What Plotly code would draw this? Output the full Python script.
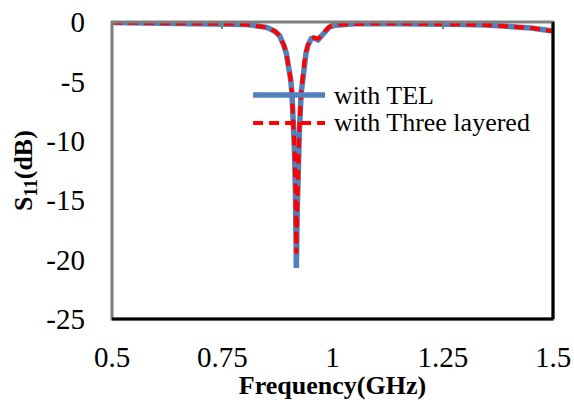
import plotly.graph_objects as go

# Frequency (GHz) and S11 (dB)
freq_tel = [0.50, 0.55, 0.60, 0.65, 0.70, 0.75, 0.78, 0.80, 0.82, 0.84, 0.85, 0.86,
            0.87, 0.88, 0.885, 0.89, 0.895, 0.90, 0.905, 0.908, 0.911, 0.914, 0.916,
            0.918, 0.920, 0.922, 0.925, 0.929, 0.932, 0.936, 0.94, 0.944, 0.948,
            0.952, 0.958, 0.963, 0.967, 0.972, 0.978, 0.985, 0.992, 1.00, 1.02,
            1.05, 1.10, 1.15, 1.20, 1.25, 1.30, 1.35, 1.40, 1.45, 1.50]
s11_tel = [-0.05, -0.06, -0.07, -0.08, -0.10, -0.12, -0.15, -0.20, -0.28, -0.38, -0.45, -0.6,
           -0.8, -1.15, -1.5, -2.0, -2.6, -3.5, -4.8, -6.0, -8.0, -11.0, -14.5,
           -20.7, -16.0, -12.5, -9.0, -6.0, -4.8, -3.5, -2.6, -2.0, -1.6,
           -1.4, -1.35, -1.45, -1.5, -1.3, -1.0, -0.7, -0.45, -0.3, -0.2,
           -0.15, -0.12, -0.12, -0.13, -0.17, -0.2, -0.25, -0.35, -0.5, -0.75]

freq_three = [0.50, 0.55, 0.60, 0.65, 0.70, 0.75, 0.78, 0.80, 0.82, 0.84, 0.85, 0.86,
              0.87, 0.88, 0.885, 0.89, 0.895, 0.90, 0.905, 0.908, 0.911, 0.914, 0.916,
              0.918, 0.920, 0.922, 0.925, 0.929, 0.932, 0.936, 0.94, 0.944, 0.948,
              0.952, 0.958, 0.963, 0.967, 0.972, 0.978, 0.985, 0.992, 1.00, 1.02,
              1.05, 1.10, 1.15, 1.20, 1.25, 1.30, 1.35, 1.40, 1.45, 1.50]
s11_three = [-0.05, -0.06, -0.07, -0.08, -0.10, -0.12, -0.15, -0.20, -0.28, -0.38, -0.45, -0.6,
             -0.8, -1.15, -1.5, -2.0, -2.6, -3.5, -4.8, -6.0, -8.0, -10.8, -14.0,
             -19.5, -15.5, -12.2, -8.8, -5.9, -4.7, -3.4, -2.5, -1.95, -1.55,
             -1.35, -1.3, -1.38, -1.42, -1.25, -0.95, -0.68, -0.44, -0.3, -0.2,
             -0.15, -0.12, -0.12, -0.13, -0.17, -0.2, -0.25, -0.35, -0.5, -0.78]

x_ticks = [0.5, 0.75, 1.0, 1.25, 1.5]
x_tick_labels = ["0.5", "0.75", "1", "1.25", "1.5"]
y_ticks = [0, -5, -10, -15, -20, -25]
y_tick_labels = ["0", "-5", "-10", "-15", "-20", "-25"]
series_names = ["with TEL", "with Three layered"]

BLUE = "#4F81BD"
RED = "#FF0000"
FONT = "Liberation Serif, Times New Roman, serif"

fig = go.Figure()
fig.add_trace(go.Scatter(x=freq_tel, y=s11_tel, mode="lines", name=series_names[0],
                         line=dict(color=BLUE, width=5.5), showlegend=False))
fig.add_trace(go.Scatter(x=freq_three, y=s11_three, mode="lines", name=series_names[1],
                         line=dict(color=RED, width=4, dash="10px,6px"), showlegend=False))
# invisible helper trace so the top tick axis is drawn
fig.add_trace(go.Scatter(x=[x_ticks[0]], y=[y_ticks[0]], xaxis="x2", mode="markers",
                         marker=dict(opacity=0), showlegend=False, hoverinfo="skip"))

# Custom legend (long line samples like the reference)
fig.add_shape(type="line", xref="paper", yref="paper", x0=0.320, x1=0.483, y0=0.754, y1=0.754,
              line=dict(color=BLUE, width=5.5))
fig.add_shape(type="line", xref="paper", yref="paper", x0=0.320, x1=0.483, y0=0.660, y1=0.660,
              line=dict(color=RED, width=4, dash="10px,6px"))
fig.add_annotation(xref="paper", yref="paper", x=0.499, y=0.754, text=series_names[0],
                   showarrow=False, xanchor="left", yanchor="middle",
                   font=dict(family=FONT, size=26, color="black"))
fig.add_annotation(xref="paper", yref="paper", x=0.499, y=0.660, text=series_names[1],
                   showarrow=False, xanchor="left", yanchor="middle",
                   font=dict(family=FONT, size=26, color="black"))

# Frame: gray outline with darker bottom/right edges
fig.add_shape(type="rect", xref="paper", yref="paper", x0=0, x1=1, y0=0, y1=1,
              line=dict(color="#7F7F7F", width=3), layer="above")
fig.add_shape(type="line", xref="paper", yref="paper", x0=0, x1=1, y0=0, y1=0,
              line=dict(color="black", width=3), layer="above")
fig.add_shape(type="line", xref="paper", yref="paper", x0=1, x1=1, y0=0, y1=1,
              line=dict(color="black", width=3), layer="above")

fig.update_layout(
    width=574, height=400,
    margin=dict(l=112, r=21, t=22, b=81, autoexpand=False),
    paper_bgcolor="white", plot_bgcolor="white",
    font=dict(family=FONT, color="black"),
    xaxis=dict(range=[0.5, 1.5], tickvals=x_ticks, ticktext=x_tick_labels,
               showgrid=False, zeroline=False, showline=False, ticks="", automargin=False,
               tickfont=dict(family=FONT, size=29, color="black"), ticklabelstandoff=18,
               title=dict(text="<b>Frequency(GHz)</b>",
                          font=dict(family=FONT, size=26, color="black"), standoff=2)),
    xaxis2=dict(range=[0.5, 1.5], overlaying="x", side="top", tickvals=x_ticks,
                showticklabels=False, ticks="inside", ticklen=7, tickcolor="#7F7F7F",
                tickwidth=1.5, showgrid=False, zeroline=False, showline=False,
                automargin=False),
    yaxis=dict(range=[-25, 0], tickvals=y_ticks, ticktext=y_tick_labels,
               showgrid=False, zeroline=False, showline=False, ticks="", automargin=False,
               tickfont=dict(family=FONT, size=29, color="black"), ticklabelstandoff=26,
               title=dict(text="<b>S<sub>11</sub>(dB)</b>",
                          font=dict(family=FONT, size=26, color="black"), standoff=6)),
)

fig.write_html("out.html")
